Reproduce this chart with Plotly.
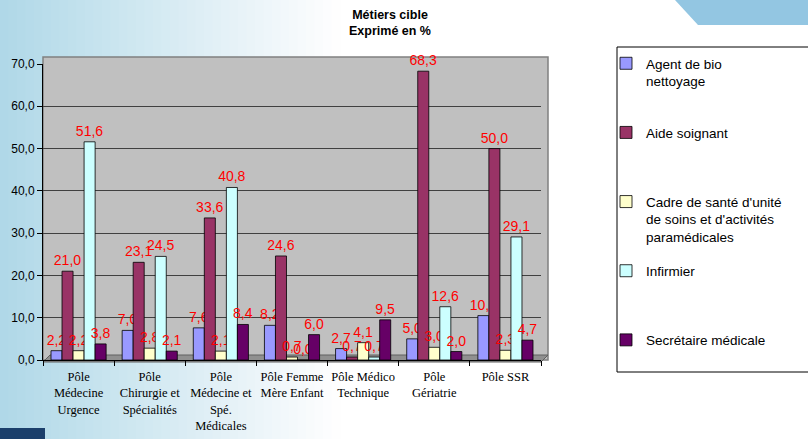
import plotly.graph_objects as go

categories = [
    "Pôle<br>Médecine<br>Urgence",
    "Pôle<br>Chirurgie et<br>Spécialités",
    "Pôle<br>Médecine et<br>Spé.<br>Médicales",
    "Pôle Femme<br>Mère Enfant",
    "Pôle Médico<br>Technique",
    "Pôle<br>Gériatrie",
    "Pôle SSR",
]
series_names = [
    "Agent de bio<br>nettoyage<br> ",
    "Aide soignant<br> <br> ",
    "Cadre de santé d'unité<br>de soins et d'activités<br>paramédicales",
    "Infirmier<br> <br> ",
    "Secrétaire médicale<br> <br> ",
]
agent = [2.2, 7.0, 7.6, 8.2, 2.7, 5.0, 10.5]
aide = [21.0, 23.1, 33.6, 24.6, 0.7, 68.3, 50.0]
cadre = [2.2, 2.8, 2.1, 0.7, 4.1, 3.0, 2.3]
infirmier = [51.6, 24.5, 40.8, 0.0, 0.7, 12.6, 29.1]
secretaire = [3.8, 2.1, 8.4, 6.0, 9.5, 2.0, 4.7]
series_values = [agent, aide, cadre, infirmier, secretaire]
colors = ["#9999FF", "#993366", "#FFFFCC", "#CCFFFF", "#660066"]
y_ticks = [0, 10, 20, 30, 40, 50, 60, 70]
title_text = "<b>Métiers cible<br>Exprimé en %</b>"

# plot area in pixels
PL, PR, PT, PB = 43, 541, 64, 360
W, H = 808, 439


def px2x(px):
    return (px - PL) / (PR - PL)


def py2y(py):
    return (PB - py) / (PB - PT)


fig = go.Figure()
for i, (name, vals, col) in enumerate(zip(series_names, series_values, colors)):
    fig.add_trace(go.Bar(
        x=categories, y=vals, name=name, legendgroup=str(i),
        marker=dict(color=col, line=dict(color="#000000", width=0.8)),
        texttemplate="%{y:.1f}", textposition="outside",
        textfont=dict(color="#FF0000", size=14, family="Liberation Sans"),
        constraintext="none", cliponaxis=False,
    ))

shapes = []
# background gradient on the left
n = 40
x0p, x1p = 0, 340
c0 = (176, 216, 232)
for k in range(n):
    a = k / n
    b = (k + 1) / n
    t = (a + b) / 2
    r = int(c0[0] + (255 - c0[0]) * t)
    g = int(c0[1] + (255 - c0[1]) * t)
    bl = int(c0[2] + (255 - c0[2]) * t)
    shapes.append(dict(type="rect", xref="paper", yref="paper",
                       x0=px2x(x0p + (x1p - x0p) * a), x1=px2x(x0p + (x1p - x0p) * b + 1),
                       y0=py2y(H), y1=py2y(0), line=dict(width=0),
                       fillcolor=f"rgb({r},{g},{bl})", layer="below"))
# plot background (back wall)
shapes.append(dict(type="rect", xref="paper", yref="paper",
                   x0=px2x(PL), x1=px2x(548), y0=py2y(PB), y1=py2y(57),
                   fillcolor="#C0C0C0", line=dict(color="#808080", width=1.5), layer="below"))
# floor
shapes.append(dict(type="path", xref="paper", yref="paper",
                   path=f"M{px2x(PL)},{py2y(362)} L{px2x(541)},{py2y(362)} L{px2x(548)},{py2y(355)} L{px2x(50)},{py2y(355)} Z",
                   fillcolor="#909090", line=dict(color="#606060", width=1), layer="below"))
# top-right decoration
shapes.append(dict(type="path", xref="paper", yref="paper",
                   path=f"M{px2x(675)},{py2y(0)} L{px2x(815)},{py2y(0)} L{px2x(815)},{py2y(25)} L{px2x(698)},{py2y(25)} Z",
                   fillcolor="#93C6E2", line=dict(width=0), layer="below"))
# bottom-left navy block
shapes.append(dict(type="rect", xref="paper", yref="paper",
                   x0=px2x(0), x1=px2x(45), y0=py2y(445), y1=py2y(428),
                   fillcolor="#1B3F6B", line=dict(width=0), layer="below"))
# legend box
shapes.append(dict(type="rect", xref="paper", yref="paper",
                   x0=px2x(617), x1=px2x(815), y0=py2y(372), y1=py2y(47),
                   fillcolor="#FFFFFF", line=dict(color="#000000", width=1), layer="below"))

fig.update_layout(
    width=W, height=H,
    margin=dict(l=PL, r=W - PR, t=PT, b=H - PB, autoexpand=False),
    paper_bgcolor="#FFFFFF", plot_bgcolor="rgba(0,0,0,0)",
    separators=", ",
    barmode="group", bargap=0.225, bargroupgap=0.0,
    font=dict(family="Liberation Sans", color="#000000"),
    showlegend=True,
    legend=dict(x=px2x(606), xanchor="left", y=py2y(48), yanchor="top",
                bgcolor="rgba(0,0,0,0)", borderwidth=0,
                font=dict(family="Liberation Sans", size=13.5, color="#000000"),
                tracegroupgap=13.5, valign="top", traceorder="grouped",
                maxheight=420),
    shapes=shapes,
    annotations=[dict(text=title_text, xref="paper", yref="paper",
                      x=px2x(390), y=py2y(6), xanchor="center", yanchor="top",
                      showarrow=False,
                      font=dict(family="Liberation Sans", size=12.5, color="#000000"))],
)
fig.update_xaxes(
    showline=True, linecolor="#000000", linewidth=1,
    ticks="outside", tickson="boundaries", ticklen=5, tickcolor="#000000",
    tickangle=0, ticklabelstandoff=5,
    tickfont=dict(family="Liberation Serif", size=12.5, color="#000000"),
    showgrid=False,
)
fig.update_yaxes(
    range=[0, 70], tickvals=y_ticks, tickformat=".1f",
    showline=True, linecolor="#000000", linewidth=1,
    ticks="outside", ticklen=5, tickcolor="#000000",
    tickfont=dict(family="Liberation Sans", size=12, color="#000000"),
    gridcolor="#404040", gridwidth=1, zeroline=False,
)

fig.write_html("out.html")
